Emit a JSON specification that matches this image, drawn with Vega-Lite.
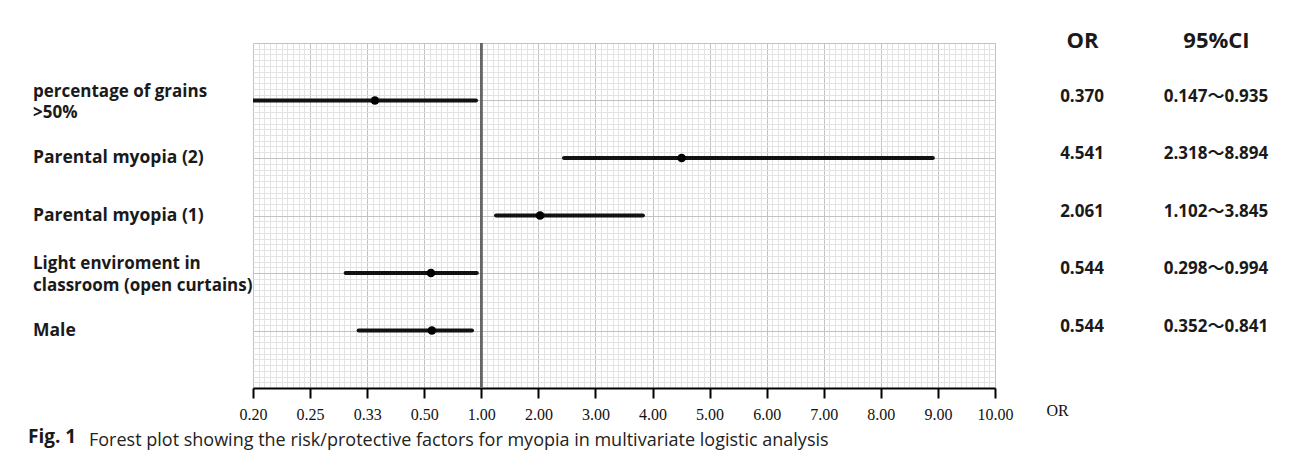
{
  "$schema": "https://vega.github.io/schema/vega-lite/v6.json",
  "padding": {"left": 28, "top": 29, "right": 0, "bottom": 0},
  "background": "white",
  "bounds": "flush",
  "spacing": 20,
  "config": {"view": {"stroke": null}, "font": "Open Sans"},
  "datasets": {
    "rows": [
      {"factor": "percentage of grains\n>50%", "lines": 2, "row": 5, "or_pos": 0.356, "lo_pos": 0.147, "hi_pos": 0.953, "OR": "0.370", "95%CI": "0.147～0.935"},
      {"factor": "Parental myopia (2)", "lines": 1, "row": 4, "or_pos": 4.51, "lo_pos": 2.45, "hi_pos": 8.91, "OR": "4.541", "95%CI": "2.318～8.894"},
      {"factor": "Parental myopia (1)", "lines": 1, "row": 3, "or_pos": 2.03, "lo_pos": 1.26, "hi_pos": 3.83, "OR": "2.061", "95%CI": "1.102～3.845"},
      {"factor": "Light enviroment in\nclassroom (open curtains)", "lines": 2, "row": 2, "or_pos": 0.559, "lo_pos": 0.302, "hi_pos": 0.96, "OR": "0.544", "95%CI": "0.298～0.994"},
      {"factor": "Male", "lines": 1, "row": 1, "or_pos": 0.567, "lo_pos": 0.321, "hi_pos": 0.918, "OR": "0.544", "95%CI": "0.352～0.841"}
    ]
  },
  "hconcat": [
    {
      "width": 205,
      "height": 345,
      "title": {"text": "Fig. 1", "orient": "bottom", "anchor": "start", "frame": "group", "offset": 40, "font": "Open Sans", "fontSize": 19, "fontWeight": "bold", "color": "#1a1a1a"},
      "data": {"name": "rows"},
      "encoding": {
        "x": {"datum": 0, "type": "quantitative", "scale": {"domain": [0, 1]}, "axis": null},
        "y": {"field": "row", "type": "quantitative", "scale": {"domain": [0, 6], "nice": false, "zero": false}, "axis": null},
        "text": {"field": "factor"}
      },
      "layer": [
        {
          "transform": [{"filter": "datum.lines == 1"}],
          "mark": {"type": "text", "align": "left", "baseline": "middle", "font": "Open Sans", "fontSize": 17.5, "fontWeight": "bold", "color": "#1a1a1a", "dx": 5}
        },
        {
          "transform": [{"filter": "datum.lines == 2"}],
          "mark": {"type": "text", "align": "left", "baseline": "middle", "lineBreak": "\n", "lineHeight": 21.5, "font": "Open Sans", "fontSize": 17, "fontWeight": "bold", "color": "#1a1a1a", "dx": 5, "dy": -9}
        }
      ]
    },
    {
      "width": 742,
      "height": 345,
      "title": {"text": "Forest plot showing the risk/protective factors for myopia in multivariate logistic analysis", "orient": "bottom", "anchor": "start", "frame": "group", "dx": -164, "offset": 10, "font": "Open Sans", "fontSize": 18, "fontWeight": "normal", "color": "#222222"},
      "data": {"name": "rows"},
      "layer": [
        {
          "mark": {"type": "point", "opacity": 0},
          "encoding": {
            "x": {"field": "row", "type": "quantitative", "scale": {"domain": [0, 13], "nice": false, "zero": false},
              "axis": {"orient": "top", "grid": true, "tickCount": 130, "gridColor": "#e3e3e3", "gridWidth": 1, "labels": false, "ticks": false, "domain": false, "title": null}},
            "y": {"field": "row", "type": "quantitative", "scale": {"domain": [0, 6], "nice": false, "zero": false},
              "axis": {"orient": "right", "grid": true, "tickCount": 60, "gridColor": "#e3e3e3", "gridWidth": 1, "labels": false, "ticks": false, "domain": false, "title": null}}
          }
        },
        {
          "layer": [
            {
              "mark": {"type": "rule", "color": "#666666", "strokeWidth": 2},
              "encoding": {
                "x": {"datum": 1, "type": "quantitative", "scale": {"domain": [0.2, 0.25, 0.3333, 0.5, 1, 10], "range": [0, 57.08, 114.15, 171.23, 228.31, 742], "nice": false, "zero": false}}
              }
            },
            {
              "mark": {"type": "rule", "color": "#111111", "strokeWidth": 4.2, "strokeCap": "round", "clip": true},
              "encoding": {
                "x": {"field": "lo_pos", "type": "quantitative",
                  "scale": {"domain": [0.2, 0.25, 0.3333, 0.5, 1, 10], "range": [0, 57.08, 114.15, 171.23, 228.31, 742], "nice": false, "zero": false},
                  "axis": {"orient": "bottom", "values": [0.2, 0.25, 0.3333, 0.5, 1, 2, 3, 4, 5, 6, 7, 8, 9, 10], "format": ".2f", "grid": true, "gridColor": "#c2c2c2", "gridWidth": 1,
                    "domainColor": "#000000", "domainWidth": 2, "tickColor": "#000000", "tickWidth": 2, "tickSize": 10,
                    "labelFont": "Liberation Serif", "labelFontSize": 16, "labelColor": "#111111", "labelBaseline": "middle", "labelPadding": 16, "labelFlush": false, "labelOverlap": false,
                    "title": "OR", "titleFont": "Liberation Serif", "titleFontSize": 16, "titleFontWeight": "normal", "titleColor": "#111111", "titleX": 804, "titleY": 22, "titleAlign": "center", "titleBaseline": "middle"}},
                "x2": {"field": "hi_pos"},
                "y": {"field": "row", "type": "quantitative", "scale": {"domain": [0, 6], "nice": false, "zero": false},
                  "axis": {"orient": "left", "values": [0, 1, 2, 3, 4, 5, 6], "grid": true, "gridColor": "#c2c2c2", "gridWidth": 1, "labels": false, "ticks": false, "domain": false, "title": null}}
              }
            },
            {
              "mark": {"type": "point", "filled": true, "size": 75, "color": "#000000", "opacity": 1},
              "encoding": {
                "x": {"field": "or_pos", "type": "quantitative", "scale": {"domain": [0.2, 0.25, 0.3333, 0.5, 1, 10], "range": [0, 57.08, 114.15, 171.23, 228.31, 742], "nice": false, "zero": false}},
                "y": {"field": "row", "type": "quantitative"}
              }
            }
          ]
        }
      ],
      "resolve": {"scale": {"x": "independent", "y": "independent"}, "axis": {"x": "independent", "y": "independent"}}
    },
    {
      "width": 268,
      "height": 345,
      "data": {"name": "rows"},
      "transform": [{"fold": ["OR", "95%CI"], "as": ["col", "val"]}],
      "mark": {"type": "text", "font": "Open Sans, Noto Sans CJK SC", "fontSize": 17, "fontWeight": "bold", "color": "#1a1a1a", "baseline": "middle", "dy": -4},
      "encoding": {
        "x": {"field": "col", "type": "nominal", "sort": ["OR", "95%CI"], "scale": {"type": "point", "padding": 0.5},
          "axis": {"orient": "top", "title": null, "ticks": false, "tickSize": 0, "domain": false, "grid": false, "labelAngle": 0, "labelFont": "Open Sans", "labelFontSize": 22, "labelFontWeight": "bold", "labelColor": "#1a1a1a", "labelBaseline": "middle", "labelPadding": 3}},
        "y": {"field": "row", "type": "quantitative", "scale": {"domain": [0, 6], "nice": false, "zero": false}, "axis": null},
        "text": {"field": "val"}
      }
    }
  ]
}
